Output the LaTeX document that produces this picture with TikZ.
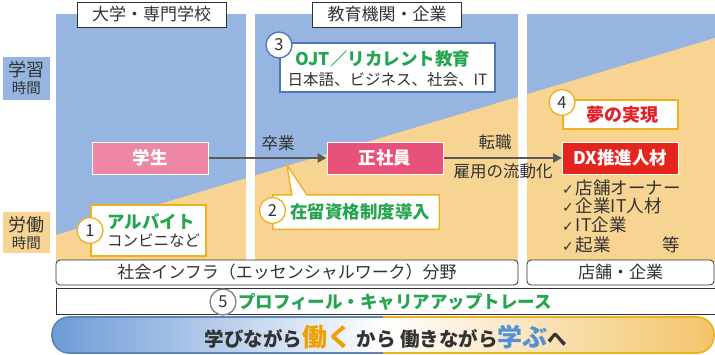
\documentclass[tikz,border=0pt]{standalone}
\usepackage{fontspec}
\newfontfamily\jp{Noto Sans CJK JP}
\newfontfamily\sym{DejaVu Sans}
\usetikzlibrary{arrows.meta}
\definecolor{pblue}{RGB}{150,181,225}
\definecolor{porange}{RGB}{247,212,145}
\definecolor{pinkA}{RGB}{238,134,166}
\definecolor{pinkB}{RGB}{232,82,122}
\definecolor{dxred}{RGB}{230,36,30}
\definecolor{jgreen}{RGB}{38,165,80}
\definecolor{oborder}{RGB}{240,176,30}
\definecolor{bborder}{RGB}{75,118,188}
\definecolor{txt}{RGB}{50,50,50}
\definecolor{agray}{RGB}{90,90,90}
\definecolor{jred}{RGB}{226,32,40}
\definecolor{wordorange}{RGB}{240,160,0}
\definecolor{wordblue}{RGB}{80,145,215}
\definecolor{pillblue}{RGB}{110,155,215}
\definecolor{pillorange}{RGB}{243,196,105}
\definecolor{circgray}{RGB}{130,130,130}
\tikzset{
  fs/.style={font=\jp\fontsize{#1}{#1}\selectfont},
  lbl/.style={inner sep=0, text=txt, fs=16.5},
  topbox/.style={draw=txt, line width=0.8pt, fill=white, minimum width=149pt, minimum height=25pt, inner sep=0, text=txt, fs=17},
  rolebox/.style={draw=white, line width=1pt, minimum width=116pt, minimum height=32pt, inner sep=0, text=white, font=\jp\bfseries\fontsize{17.5}{17.5}\selectfont},
  numcirc/.style={circle, draw=#1, line width=1.3pt, fill=white, minimum size=26pt, inner sep=0, text=txt, fs=16.5},
  flow/.style={draw=agray, line width=2.2pt, -{Triangle[length=9pt,width=9pt]}},
  gtitle/.style={inner sep=0, text=jgreen, font=\jp\bfseries\fontsize{17.5}{17.5}\selectfont},
  calloutO/.style={draw=oborder, line width=1.4pt, fill=white},
  calloutB/.style={draw=bborder, line width=1.4pt, fill=white},
  barbox/.style={draw=txt, line width=0.8pt, fill=white, rounded corners=4pt, inner sep=0, minimum height=25pt, text=txt, fs=17},
  chk/.style={inner sep=0, anchor=west, text=txt, fs=17.5},
}
\newcommand{\tick}{{\sym\fontsize{14}{14}\selectfont ✓}\hspace{2pt}}
\begin{document}
\begin{tikzpicture}[x=1pt,y=-1pt]
\useasboundingbox (0,0) rectangle (715,354);
% panels
\foreach \xa/\xb in {56/246, 255/518, 527/716}{
  \begin{scope}
    \clip (\xa,14) rectangle (\xb,262);
    \fill[pblue] (\xa,14) rectangle (\xb,262);
    \fill[porange] (0,251.7) -- (716,37.7) -- (716,262) -- (0,262) -- cycle;
  \end{scope}
}
% top labels
\node[topbox] (uni) at (151.5,14.5) {大学・専門学校};
\node[topbox] (edu) at (387,14.5) {教育機関・企業};
% side labels
\fill[pblue] (3,57) rectangle (50,100);
\node[lbl, fs=18] (gak) at (26.5,70) {学習};
\node[lbl, fs=14.5] (gakj) at (26.5,88) {時間};
\fill[porange] (3,212) rectangle (50,253);
\node[lbl, fs=18] (rod) at (26.5,225) {労働};
\node[lbl, fs=14.5] (rodj) at (26.5,243) {時間};
% main roles
\node[rolebox, fill=pinkA] (student) at (150,158) {学生};
\node[rolebox, fill=pinkB] (emp) at (385,158) {正社員};
\node[rolebox, fill=dxred] (dx) at (620.5,158) {DX推進人材};
\draw[flow] (student) -- (emp);
\draw[flow] (emp) -- (dx);
\node[lbl] (grad) at (278,143) {卒業};
\node[lbl] (job) at (495,142.5) {転職};
\node[lbl] (fluid) at (503,171) {雇用の流動化};
% callout 3
\node[calloutB, minimum width=215pt, minimum height=49pt, inner sep=0] (c3) at (387.5,67.5) {};
\node[gtitle] (c3a) at (383,58.5) {OJT／リカレント教育};
\node[lbl, fs=15.5] (c3b) at (387.5,79.5) {日本語、ビジネス、社会、IT};
\node[numcirc=bborder] (n3) at (279,45) {3};
% callout 4
\node[calloutO, minimum width=115pt, minimum height=29pt, inner sep=0] (c4) at (620.5,114.5) {};
\node[inner sep=0, text=jred, font=\jp\bfseries\fontsize{18}{18}\selectfont] (c4a) at (622,115) {夢の実現};
\node[numcirc=oborder] (n4) at (562,102.5) {4};
% callout 1
\node[calloutO, minimum width=115pt, minimum height=51pt, inner sep=0] (c1) at (148.5,230.5) {};
\node[gtitle, anchor=west] (c1a) at (107,221.5) {アルバイト};
\node[lbl, fs=15.5, anchor=west] (c1b) at (107,241) {コンビニなど};
\node[numcirc=oborder] (n1) at (90,230.5) {1};
% callout 2
\node[inner sep=0, minimum width=166pt, minimum height=34pt] (c2) at (356,212) {};
\coordinate (tip2) at (287,165);
\draw[calloutO] (c2.north west) -- ++(19,0) -- (tip2) -- ([xshift=34pt]c2.north west) -- (c2.north east) -- (c2.south east) -- (c2.south west) -- cycle;
\node[gtitle] (c2a) at (360,212) {在留資格制度導入};
\node[numcirc=oborder] (n2) at (272.5,210.5) {2};
% checklist
\node[chk] (k1) at (562,187.5) {\tick 店舗オーナー};
\node[chk] (k2) at (562,206) {\tick 企業IT人材};
\node[chk] (k3) at (562,225) {\tick IT企業};
\node[chk] (k4) at (562,245) {\tick 起業\hspace*{52pt}等};
% bars
\node[barbox, minimum width=462pt] (infra) at (287,272.5) {社会インフラ（エッセンシャルワーク）分野};
\node[barbox, minimum width=187pt] (shop) at (620.5,272.5) {店舗・企業};
\draw[draw=txt, line width=0.8pt, fill=white] (56,288) rectangle (716,314);
\node[numcirc=circgray] (n5) at (223,302) {5};
\node[gtitle] (c5) at (395,302) {プロフィール・キャリアアップトレース};
% bottom pill
\shade[left color=pillblue, right color=pillorange, middle color=white, rounded corners=17pt] (52,317) rectangle (714,353);
\begin{scope}
  \clip (0,300) rectangle (383,354);
  \draw[draw=pillblue!85!black, line width=1.6pt, rounded corners=17pt] (52,317) rectangle (714,353);
\end{scope}
\begin{scope}
  \clip (383,300) rectangle (716,354);
  \draw[draw=oborder, line width=1.6pt, rounded corners=17pt] (52,317) rectangle (714,353);
\end{scope}
\node[inner sep=0, text=txt, font=\jp\bfseries\fontsize{19.5}{19.5}\selectfont] (motto) at (386,336.5)
  {学びながら{\fontsize{25}{25}\selectfont\color{wordorange}働く} から 働きながら{\fontsize{25}{25}\selectfont\color{wordblue}学ぶ}へ};
\end{tikzpicture}
\end{document}
